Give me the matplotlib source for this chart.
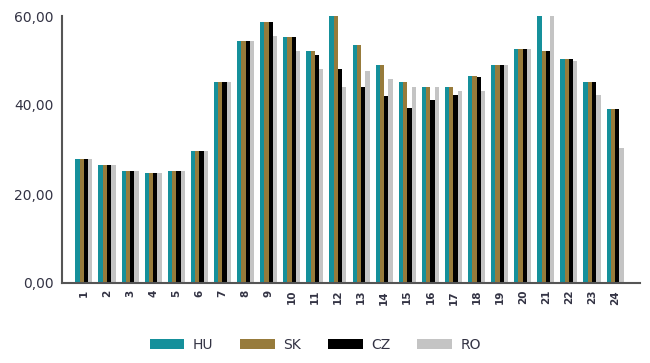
import matplotlib
matplotlib.use("Agg")
import matplotlib.pyplot as plt
import numpy as np
from matplotlib.patches import Patch

categories = list(range(1, 25))
series_names = ["HU", "SK", "CZ", "RO"]
hu = [27.9, 26.5, 25.2, 24.7, 25.2, 29.7, 45.2, 54.4, 58.7, 55.2, 52.2, 61.0,
      53.4, 49.1, 45.1, 44.1, 44.1, 46.6, 49.1, 52.5, 61.0, 50.3, 45.1, 39.0]
sk = [27.9, 26.5, 25.2, 24.7, 25.2, 29.7, 45.2, 54.4, 58.7, 55.2, 52.2, 61.0,
      53.4, 49.1, 45.1, 44.1, 44.1, 46.6, 49.1, 52.5, 52.1, 50.3, 45.1, 39.0]
cz = [27.9, 26.5, 25.2, 24.7, 25.2, 29.7, 45.2, 54.4, 58.7, 55.2, 51.3, 48.2,
      44.1, 42.0, 39.3, 41.1, 42.3, 46.4, 49.1, 52.5, 52.1, 50.3, 45.1, 39.0]
ro = [27.9, 26.5, 25.2, 24.7, 25.2, 29.7, 45.2, 54.4, 55.5, 52.2, 48.2, 44.1,
      47.6, 45.8, 44.1, 44.1, 43.2, 43.2, 49.1, 52.5, 61.0, 49.8, 42.3, 30.3]
yticks = [0, 20, 40, 60]
colors = ["#15909b", "#977b3b", "#000000", "#c4c4c4"]

fig = plt.figure(figsize=(6.5, 3.63), dpi=100)
ax = fig.add_axes([62/650, 1-283/363, (640-62)/650, (283-16)/363])

x = np.array(categories, dtype=float)
w = 0.185
for i, (vals, c) in enumerate(zip([hu, sk, cz, ro], colors)):
    ax.bar(x + (i - 1.5) * w, vals, width=w, color=c, linewidth=0)

ax.set_xlim(0.05, 25.08)
ax.set_ylim(0, 60)
ax.set_yticks(yticks)
ax.set_yticklabels([f"{v:.2f}".replace(".", ",") for v in yticks],
                   fontsize=10, color="#333344")
ax.set_xticks(x)
ax.set_xticklabels([str(c) for c in categories], rotation=90, fontsize=7.5,
                   color="#333344", fontweight="bold")
ax.tick_params(axis="both", length=0, pad=6)
ax.tick_params(axis="x", pad=5)
for s in ["top", "right"]:
    ax.spines[s].set_visible(False)
for s in ["left", "bottom"]:
    ax.spines[s].set_color("#555555")
    ax.spines[s].set_linewidth(1.5)

handles = [Patch(facecolor=c, edgecolor="none") for c in colors]
fig.legend(handles, series_names, loc="center", bbox_to_anchor=(0.485, 0.05),
           ncol=4, frameon=False, fontsize=10, handlelength=2.5, handleheight=0.75,
           columnspacing=1.95, handletextpad=0.6, labelcolor="#333344")

fig.savefig("out.png", dpi=100)
